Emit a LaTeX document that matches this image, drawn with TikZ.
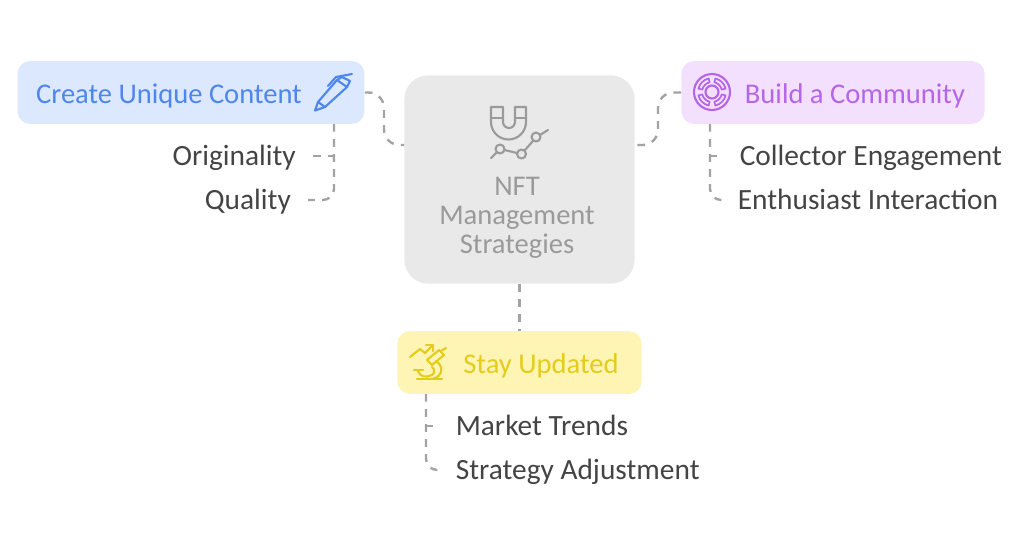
\documentclass[tikz,border=0pt]{standalone}
\usepackage{fontspec}
\setmainfont{Carlito}
\usepackage{tikz}

\definecolor{bluefill}{HTML}{DBE8FE}
\definecolor{blueink}{HTML}{4F86EE}
\definecolor{purplefill}{HTML}{F3E0FE}
\definecolor{purpleink}{HTML}{B565E8}
\definecolor{yellowfill}{HTML}{FEF4B4}
\definecolor{yellowink}{HTML}{E3CC1B}
\definecolor{greyfill}{HTML}{E9E9E9}
\definecolor{greyink}{HTML}{9A9A9A}
\definecolor{leafink}{HTML}{444444}
\definecolor{linkgrey}{HTML}{A3A3A3}

\tikzset{
    topicbox/.style={rounded corners=9pt, inner sep=0pt, minimum height=63*0.709pt},
    title/.style={text height=17.5pt, text depth=4pt, inner sep=0pt, font=\fontsize{20.3}{24}\selectfont},
    leaf/.style={inner ysep=0pt, inner xsep=16pt, text=leafink, text height=17.5pt, text depth=4pt, font=\fontsize{20.9}{24}\selectfont},
    link/.style={draw=linkgrey, line width=1.7pt, dash pattern=on 5.5pt off 5.2pt, rounded corners=8pt},
    icon/.style={line width=1.5pt, line cap=round, line join=round}
}

\begin{document}
\begin{tikzpicture}[x=0.025cm, y=0.025cm]
    \useasboundingbox (0,0) rectangle (1024,-542);

    % topics
    \node[topicbox, fill=greyfill, rounded corners=17pt, minimum width=231*0.709pt, minimum height=209*0.709pt] (nft) at (519.5,-179.5) {};
    \node[topicbox, fill=bluefill, minimum width=348*0.709pt] (content) at (191,-92.5) {};
    \node[topicbox, fill=purplefill, minimum width=304*0.709pt] (community) at (833,-92.5) {};
    \node[topicbox, fill=yellowfill, minimum width=245*0.709pt] (updated) at (519.5,-362.5) {};

    % titles
    \node[title, text=blueink] (contentlabel) at (169,-94) {Create Unique Content};
    \node[title, text=purpleink] (communitylabel) at (855,-94) {Build a Community};
    \node[title, text=yellowink] (updatedlabel) at (541,-364) {Stay Updated};
    \node[text=greyink, align=center, font=\fontsize{20.3}{20.8}\selectfont] (nftlabel) at (517,-218) {NFT\\Management\\Strategies};

    % leaves
    \node[leaf, anchor=east, inner xsep=12pt] (originality) at (313,-156) {Originality};
    \node[leaf, anchor=east, inner xsep=12pt] (quality) at (308,-200) {Quality};
    \node[leaf, anchor=west] (collector) at (717,-156) {Collector Engagement};
    \node[leaf, anchor=west] (enthusiast) at (715,-200) {Enthusiast Interaction};
    \node[leaf, anchor=west] (market) at (433,-426) {Market Trends};
    \node[leaf, anchor=west] (strategy) at (433,-470) {Strategy Adjustment};

    % connector ends on the box edges
    \coordinate (nftleft) at (404,-145);
    \coordinate (nftright) at (635,-145);
    \coordinate (contentfoot) at (334,-124);
    \coordinate (communityfoot) at (710,-124);
    \coordinate (updatedfoot) at (426,-394);

    \draw[link, rounded corners=11pt] (content.east) -- (384,-92.5) -- (384,-145) -- (nftleft);
    \draw[link, rounded corners=11pt] (community.west) -- (658,-92.5) -- (658,-145) -- (nftright);
    \draw[link] (nft.south) -- (updated.north);

    \draw[link] (contentfoot) |- (quality.east);
    \draw[link] (originality.east) -- (originality.east -| contentfoot);
    \draw[link] (communityfoot) |- (enthusiast.west);
    \draw[link] (communityfoot |- collector.west) -- (collector.west);
    \draw[link] (updatedfoot) |- (strategy.west);
    \draw[link] (updatedfoot |- market.west) -- (market.west);

    % pen
    \draw[icon, blueink] (315,-110.5) -- (318,-102) -- (337,-80) -- (347,-87) -- (325,-107) -- cycle;
    \draw[icon, blueink] (337,-80) -- (342,-77) -- (350,-81) -- (347,-87);
    \draw[icon, blueink] (328,-86) -- (336,-77) -- (352,-74);
    \draw[icon, blueink] (318,-102) -- (325,-107);

    % magnet and chart
    \draw[icon, greyink] (491,-107) -- (491,-122) arc[start angle=180, end angle=360, radius=17.5]
        -- (526,-107) -- (515,-107) -- (515,-122) arc[start angle=360, end angle=180, radius=6]
        -- (503,-107) -- cycle;
    \draw[icon, greyink] (491,-118) -- (503,-118);
    \draw[icon, greyink] (515,-118) -- (526,-118);
    \draw[icon, greyink] (491,-158) -- (497,-152);
    \draw[icon, greyink] (500,-149) circle[radius=4.5];
    \draw[icon, greyink] (504.5,-150) -- (517,-153);
    \draw[icon, greyink] (521.5,-154) circle[radius=4.5];
    \draw[icon, greyink] (524.5,-150.5) -- (533,-141);
    \draw[icon, greyink] (536,-137) circle[radius=4.5];
    \draw[icon, greyink] (540,-135) -- (548,-130);

    % target
    \draw[icon, purpleink] (712,-92) circle[radius=18];
    \draw[icon, purpleink] (712,-92) circle[radius=6.5];
    \foreach \a in {0,90,180,270} {
        \draw[icon, purpleink, line width=1.2pt] (712,-92) ++(\a+14:10) arc[start angle=\a+14, end angle=\a+76, radius=10]
            -- ++(\a+76:4) arc[start angle=\a+76, end angle=\a+14, radius=14] -- cycle;
    }

    % trend and microscope
    \draw[icon, yellowink] (410,-357) -- (420,-349) -- (425,-353) -- (433,-345);
    \draw[icon, yellowink] (426,-345) -- (433,-345) -- (433,-351);
    \draw[icon, yellowink] (427,-360) -- (432,-365) -- (444,-355) -- (439,-350) -- cycle;
    \draw[icon, yellowink] (441,-351) -- (446,-348);
    \draw[icon, yellowink] (436,-361) .. controls (444,-366) and (443,-377) .. (432,-379);
    \draw[icon, yellowink] (414,-370) -- (423,-370);
    \draw[icon, yellowink] (418,-371) .. controls (420,-377) and (426,-378) .. (432,-375) .. controls (435,-373) and (435,-369) .. (432,-367);
    \draw[icon, yellowink] (417,-379) -- (442,-379);
\end{tikzpicture}
\end{document}
